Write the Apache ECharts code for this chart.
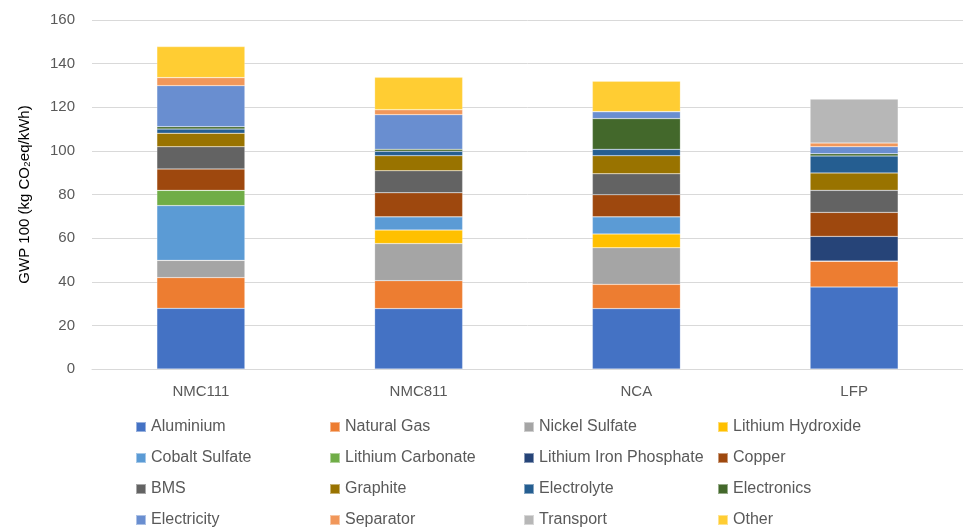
<!DOCTYPE html>
<html>
<head>
<meta charset="utf-8">
<script src="https://cdn.jsdelivr.net/npm/echarts@6/dist/echarts.min.js"></script>
<style>
  html, body { margin: 0; padding: 0; background: #ffffff; }
  #chart { width: 963px; height: 530px; }
</style>
</head>
<body>
<div id="chart"></div>
<script>
// Battery chemistries on the category axis
const chemistries = ['NMC111', 'NMC811', 'NCA', 'LFP'];

// Contribution of each input to GWP 100 (kg CO2eq/kWh), per chemistry
const aluminium            = [27.8, 27.7, 27.7, 37.6];
const naturalGas           = [14.1, 12.8, 11.1, 11.9];
const nickelSulfate        = [7.9, 17.0, 16.8, 0];
const lithiumHydroxide     = [0, 6.2, 6.3, 0];
const cobaltSulfate        = [25.1, 6.1, 7.9, 0];
const lithiumCarbonate     = [7.0, 0, 0, 0];
const lithiumIronPhosphate = [0, 0, 0, 11.3];
const copper               = [9.8, 11.0, 10.1, 11.0];
const bms                  = [10.2, 10.1, 9.6, 10.1];
const graphite             = [6.2, 6.9, 8.3, 8.0];
const electrolyte          = [1.9, 2.0, 2.9, 7.8];
const electronics          = [1.1, 0.9, 14.1, 1.0];
const electricity          = [18.8, 15.9, 3.2, 3.2];
const separator            = [3.7, 2.3, 0, 1.7];
const transport            = [0, 0, 0, 20.2];
const other                = [14.2, 14.8, 13.9, 0];

// Value axis ticks
const yTicks = [0, 20, 40, 60, 80, 100, 120, 140, 160];

const seriesDefs = [
  ['Aluminium', aluminium, '#4472C4'],
  ['Natural Gas', naturalGas, '#ED7D31'],
  ['Nickel Sulfate', nickelSulfate, '#A5A5A5'],
  ['Lithium Hydroxide', lithiumHydroxide, '#FFC000'],
  ['Cobalt Sulfate', cobaltSulfate, '#5B9BD5'],
  ['Lithium Carbonate', lithiumCarbonate, '#70AD47'],
  ['Lithium Iron Phosphate', lithiumIronPhosphate, '#264478'],
  ['Copper', copper, '#9E480E'],
  ['BMS', bms, '#636363'],
  ['Graphite', graphite, '#997300'],
  ['Electrolyte', electrolyte, '#255E91'],
  ['Electronics', electronics, '#43682B'],
  ['Electricity', electricity, '#698ED0'],
  ['Separator', separator, '#F1975A'],
  ['Transport', transport, '#B7B7B7'],
  ['Other', other, '#FFCD33']
];

const chart = echarts.init(document.getElementById('chart'), null, { renderer: 'canvas' });

// Legend laid out as four columns, four rows each (row-major order)
const legendCols = [135, 329, 523, 717];
const legends = legendCols.map((x, c) => ({
  orient: 'vertical',
  left: x,
  top: 419,
  height: 140,
  padding: 0,
  itemWidth: 10,
  itemHeight: 10,
  itemGap: 15,
  icon: 'rect',
  selectedMode: false,
  textStyle: { color: '#595959', fontSize: 16, fontFamily: 'Liberation Sans, Arial, sans-serif', lineHeight: 16 },
  data: [0, 1, 2, 3].map(r => seriesDefs[r * 4 + c][0])
}));

const option = {
  animation: false,
  backgroundColor: '#ffffff',
  grid: { left: 92, top: 20, width: 882, height: 349, containLabel: false },
  legend: legends,
  xAxis: {
    type: 'category',
    data: chemistries,
    axisLine: { lineStyle: { color: '#D9D9D9', width: 1 } },
    axisTick: { show: false },
    axisLabel: { color: '#595959', fontSize: 15, margin: 15, fontFamily: 'Liberation Sans, Arial, sans-serif' }
  },
  yAxis: {
    type: 'value',
    min: yTicks[0],
    max: yTicks[yTicks.length - 1],
    interval: yTicks[1] - yTicks[0],
    name: 'GWP 100 (kg CO₂eq/kWh)',
    nameLocation: 'middle',
    nameGap: 60,
    nameTextStyle: { color: '#000000', fontSize: 15, fontFamily: 'Liberation Sans, Arial, sans-serif' },
    axisLine: { show: false },
    axisTick: { show: false },
    axisLabel: { color: '#595959', fontSize: 15, margin: 17, fontFamily: 'Liberation Sans, Arial, sans-serif' },
    splitLine: { lineStyle: { color: '#D9D9D9', width: 1 } }
  },
  series: seriesDefs.map(([name, values, color]) => ({
    name,
    type: 'bar',
    stack: 'gwp',
    barWidth: 88,
    data: values,
    itemStyle: { color, borderColor: 'rgba(255,255,255,0.45)', borderWidth: 0.5 }
  }))
};

chart.setOption(option);
</script>
</body>
</html>
